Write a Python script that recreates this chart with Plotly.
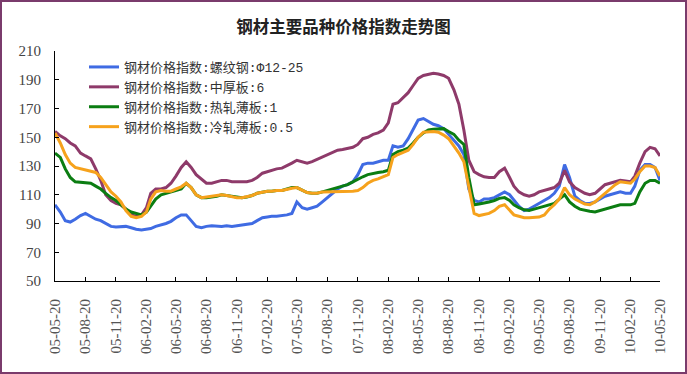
import plotly.graph_objects as go

dates = (
    ["2005-05-20", "2005-06-05", "2005-06-20", "2005-07-05", "2005-07-20", "2005-08-05", "2005-08-20",
     "2005-09-05", "2005-09-20", "2005-10-05", "2005-10-20", "2005-11-05", "2005-11-20", "2005-12-05", "2005-12-20"]
    + [f"{y}-{m}-{d}" for y in ["2006", "2007", "2008", "2009"]
       for m in ["01", "02", "03", "04", "05", "06", "07", "08", "09", "10", "11", "12"]
       for d in ["05", "20"]]
    + ["2010-01-05", "2010-01-20", "2010-02-05", "2010-02-20", "2010-03-05", "2010-03-20",
       "2010-04-05", "2010-04-20", "2010-05-05", "2010-05-20"]
)

rebar = [103, 98, 92, 91, 93, 95.5, 97, 95, 93, 92, 90, 88, 87.5, 88, 88,
         87, 86, 85.5, 86, 86.5, 88, 89, 90, 91.5, 94, 96, 96, 92, 88, 87, 88, 88.5, 88, 88, 88.5, 88, 88.5, 89, 89,
         90, 92, 94, 94.5, 95, 95, 95.5, 96, 97, 105, 101, 100, 101, 102, 105, 108, 111, 114, 116, 117, 119, 124, 131, 132,
         132, 133, 134, 134, 144, 143, 144, 149, 156, 162, 163, 161, 159, 158, 156, 152, 148, 144, 138, 114, 106, 105, 107, 107,
         108, 110, 112, 110, 106, 102, 99, 100, 102, 104, 106, 108, 111, 116, 131, 122, 109, 106, 104, 104, 105, 107, 109, 110,
         111, 112, 111, 111, 116, 127, 131, 131, 129, 120]

plate = [154, 151, 149, 146, 144, 139, 137, 135, 128, 120, 110, 106, 104, 103, 100,
         96, 95, 96, 101, 111, 114, 114, 115, 118, 123, 129, 133, 129, 124, 121, 118, 118, 119, 120, 120, 119, 119, 119, 119,
         120, 122, 125, 126, 127, 128, 128.5, 130, 132, 134, 133, 132, 133, 134.5, 136, 137.5, 139, 141, 141.5, 142, 143, 145, 149, 150,
         152, 153, 155, 160, 173, 174, 178, 181, 186, 191, 193, 194, 194.5, 194, 193, 191, 183, 173, 155, 134, 126, 124, 122.5, 122,
         122, 126, 128.5, 122, 116, 112, 110, 109, 110, 112, 113, 114, 115, 118, 127, 119, 115, 113, 111, 110, 111, 114, 117, 118,
         119, 120, 119.5, 119, 123, 132, 140, 143, 142, 137]

hot_rolled = [139, 136, 128, 122, 119, 118.5, 118, 118, 116, 114, 111, 108, 106, 103, 100,
              98, 97, 96, 98, 102, 107, 110, 111, 112, 112.5, 114, 118, 115, 110, 108, 108, 108.5, 109, 110, 109.5, 108.5, 108, 108, 108.5,
              109.5, 111, 112, 112.5, 112.5, 113, 113, 114, 115, 115, 113, 111.5, 111, 111, 112, 113, 114, 115, 116, 117, 119, 121, 122.5, 124,
              125, 125.5, 126, 127, 138, 140, 141, 142.5, 146, 150, 153, 155, 155.5, 156, 156, 154, 152, 148, 145, 122, 103, 103.5, 104, 105,
              106, 107.5, 108, 106, 103, 101, 99.5, 99, 100, 101, 102, 103, 104, 107, 110, 105, 102, 100, 99, 98.5, 98, 99, 100, 101,
              102, 103, 103, 103, 104, 112, 118, 120, 120, 118]

cold_rolled = [153, 146, 138, 132, 129, 128, 127, 126, 125.5, 122, 117, 112, 109, 105, 99,
               95, 94, 95, 98, 107, 112, 113, 112.5, 112.5, 114, 115.5, 118, 115, 110, 108, 108.5, 109, 109.5, 110, 109.5, 108.5, 108, 108, 108.5,
               109.5, 111, 112, 112.5, 112.5, 113, 113, 114, 114.5, 115, 113, 111.5, 111, 111, 112, 112, 112, 112, 112, 112, 112.5, 113, 115, 118,
               120, 121, 122.5, 124, 136, 138, 139.5, 141, 145, 150, 153.5, 154, 154, 153.5, 151.5, 149, 144, 139, 133, 115, 97, 95.5, 96.5, 97,
               99, 102, 103, 99, 96, 95, 94, 94, 94, 94.5, 96, 100, 103, 107, 115, 110, 107, 105, 103.5, 103, 105, 108, 111, 114,
               117, 119, 118.5, 118, 121, 126, 130, 130, 129, 123]

series_names = ["钢材价格指数:螺纹钢:Φ12-25", "钢材价格指数:中厚板:6",
                "钢材价格指数:热轧薄板:1", "钢材价格指数:冷轧薄板:0.5"]
series_values = [rebar, plate, hot_rolled, cold_rolled]
series_colors = ["#3F6BE3", "#8E3A6A", "#0B7D12", "#F6A21C"]

tick_dates = ["2005-05-20", "2005-08-20", "2005-11-20", "2006-02-20", "2006-05-20", "2006-08-20", "2006-11-20",
              "2007-02-20", "2007-05-20", "2007-08-20", "2007-11-20", "2008-02-20", "2008-05-20", "2008-08-20",
              "2008-11-20", "2009-02-20", "2009-05-20", "2009-08-20", "2009-11-20", "2010-02-20", "2010-05-20"]
tick_labels = [d[2:] for d in tick_dates]

title_text = "钢材主要品种价格指数走势图"

fig = go.Figure()
for name, vals, col in zip(series_names, series_values, series_colors):
    fig.add_trace(go.Scatter(x=dates, y=vals, name=name, mode="lines",
                             line=dict(color=col, width=3)))

serif = "Liberation Serif, Noto Sans CJK SC, serif"
legend_font = "Liberation Mono, Noto Sans CJK SC, monospace"
W, H = 687, 374
ml, mr, mt, mb = 55, 27, 51, 93
pw, ph = W - ml - mr, H - mt - mb


def px_x(p):
    return (p - ml) / pw


def px_y(p):
    return (mt + ph - p) / ph


fig.update_layout(
    width=W, height=H,
    margin=dict(l=ml, r=mr, t=mt, b=mb, autoexpand=False),
    paper_bgcolor="white", plot_bgcolor="white",
    title=dict(text=title_text, x=0.5, xref="container", xanchor="center",
               y=1 - 27 / H, yref="container", yanchor="middle",
               font=dict(family="Noto Sans CJK SC", size=16.5, color="#222222", weight="bold")),
    legend=dict(x=px_x(84), y=px_y(52), xanchor="left", yanchor="top",
                bgcolor="rgba(0,0,0,0)", font=dict(family=legend_font, size=13, color="#333333"),
                tracegroupgap=0, itemwidth=30),
    showlegend=True,
    xaxis=dict(type="date", range=["2005-05-20", "2010-05-20"], tickvals=tick_dates, ticktext=tick_labels,
               tickangle=-90, ticks="inside", ticklen=4, tickcolor="black", showline=True, linecolor="black",
               linewidth=1, showgrid=False, zeroline=False, ticklabelstandoff=11, automargin=False,
               tickfont=dict(family=serif, size=15, color="#555555")),
    yaxis=dict(range=[50, 210], tickvals=[50, 70, 90, 110, 130, 150, 170, 190, 210],
               ticks="inside", ticklen=4, tickcolor="black", showline=True, linecolor="black",
               linewidth=1, showgrid=False, zeroline=False, ticklabelstandoff=10, automargin=False,
               tickfont=dict(family=serif, size=15, color="#444444")),
    shapes=[dict(type="rect", xref="paper", yref="paper",
                 x0=px_x(1), x1=px_x(W - 1), y0=px_y(H - 1), y1=px_y(1),
                 line=dict(color="#7A3B6C", width=2), fillcolor="rgba(0,0,0,0)", layer="above")],
)

fig.write_html("out.html", config={"displayModeBar": False},
               post_script="document.body.style.margin='0';")
